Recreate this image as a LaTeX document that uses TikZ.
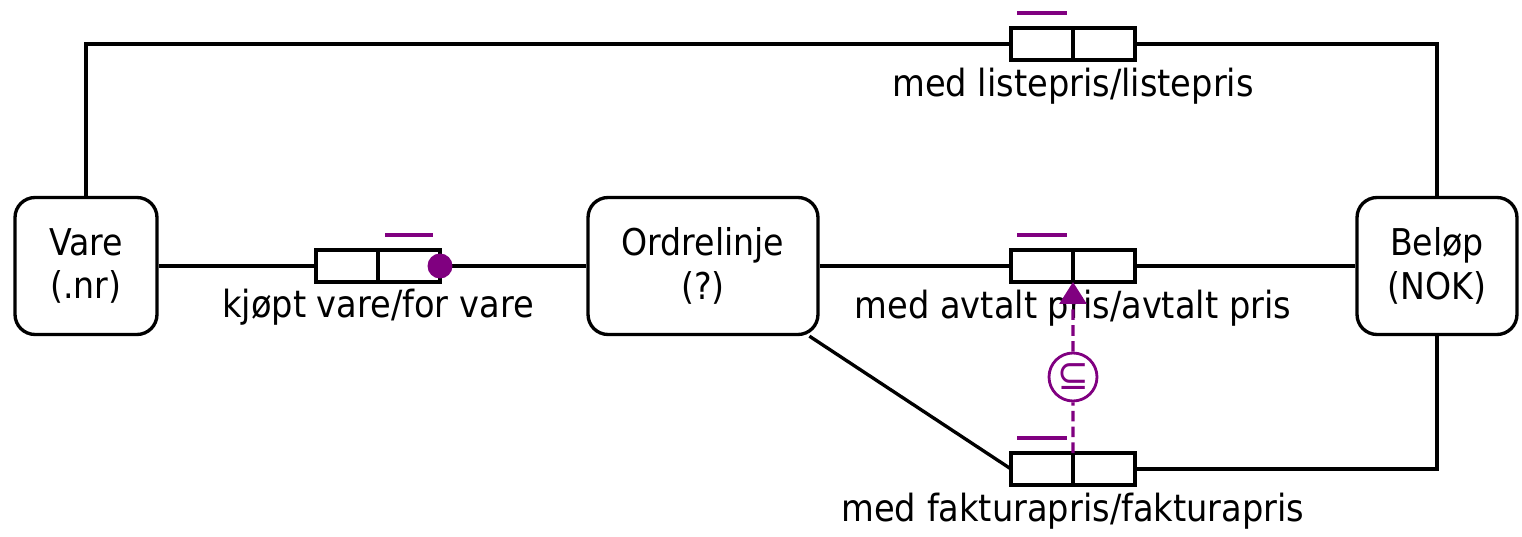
\documentclass[tikz,border=0pt]{standalone}
\usepackage{fontspec}
\setmainfont{DejaVu Sans Condensed}
\usepackage{xcolor}
\usetikzlibrary{arrows.meta,positioning}
\definecolor{ormpurple}{RGB}{128,0,128}

\tikzset{
  entity/.style={draw, line width=1.9pt, rounded corners=0.4cm, align=center,
    minimum height=2.74cm, font=\fontsize{21}{25}\selectfont},
  role/.style={draw, line width=1.9pt, minimum width=1.24cm, minimum height=0.64cm,
    inner sep=0pt, outer sep=0pt},
  rolelabel/.style={font=\fontsize{21.3}{25}\selectfont, inner sep=0pt, anchor=base},
  link/.style={line width=1.9pt},
  unique/.style={ormpurple, line width=2.4pt},
  subsetline/.style={ormpurple, line width=1.8pt, dash pattern=on 6pt off 3pt},
}

\begin{document}
\begin{tikzpicture}[x=0.02cm, y=-0.02cm]
\useasboundingbox (0,0) rectangle (1522,537);

% object types
\node[entity, minimum width=2.84cm] (vare) at (86,266) {Vare\\(.nr)};
\node[entity, minimum width=4.6cm] (ordre) at (703,266) {Ordrelinje\\(?)};
\node[entity, minimum width=3.2cm] (belop) at (1437,266) {Beløp\\(NOK)};

% fact types
\node[role] (kv1) at (347,266) {};
\node[role] (kv2) at (409,266) {};
\node[role] (lp1) at (1042,44) {};
\node[role] (lp2) at (1104,44) {};
\node[role] (ap1) at (1042,266) {};
\node[role] (ap2) at (1104,266) {};
\node[role] (fp1) at (1042,469) {};
\node[role] (fp2) at (1104,469) {};

\node[rolelabel] (kvtext) at ([yshift=-0.72cm]kv1.south east) {kjøpt vare/for vare};
\node[rolelabel] (lptext) at ([yshift=-0.74cm]lp1.south east) {med listepris/listepris};
\node[rolelabel] (aptext) at ([yshift=-0.74cm]ap1.south east) {med avtalt pris/avtalt pris};
\node[rolelabel] (fptext) at ([yshift=-0.74cm]fp1.south east) {med fakturapris/fakturapris};

% connectors
\draw[link] (vare.north) |- (lp1.west);
\draw[link] (lp2.east) -| (belop.north);
\draw[link] (vare.east) -- (kv1.west);
\draw[link] (kv2.east) -- (ordre.west);
\draw[link] (ordre.east) -- (ap1.west);
\draw[link] (ap2.east) -- (belop.west);
\draw[link] (ordre) -- (fp1.west);
\draw[link] (fp2.east) -| (belop.south);

% uniqueness and mandatory
\draw[unique] ([shift={(7,-15)}]kv2.north west) -- ([shift={(-7,-15)}]kv2.north east);
\draw[unique] ([shift={(6,-15)}]lp1.north west) -- ([shift={(-6,-15)}]lp1.north east);
\draw[unique] ([shift={(6,-15)}]ap1.north west) -- ([shift={(-6,-15)}]ap1.north east);
\draw[unique] ([shift={(6,-15)}]fp1.north west) -- ([shift={(-6,-15)}]fp1.north east);
\node[circle, fill=ormpurple, minimum size=0.5cm, inner sep=0pt] (mand) at (kv2.east) {};

% subset constraint
\node[circle, draw=ormpurple, line width=1.6pt, minimum size=0.96cm, inner sep=0pt,
  text=ormpurple, font=\fontsize{24}{24}\selectfont] (subset) at (1073,377) {⊆};
\draw[subsetline] (fp1.north east) -- (subset);
\draw[subsetline, -{Triangle[length=0.44cm, width=0.54cm]}] (subset) -- (ap1.south east);
\end{tikzpicture}
\end{document}
